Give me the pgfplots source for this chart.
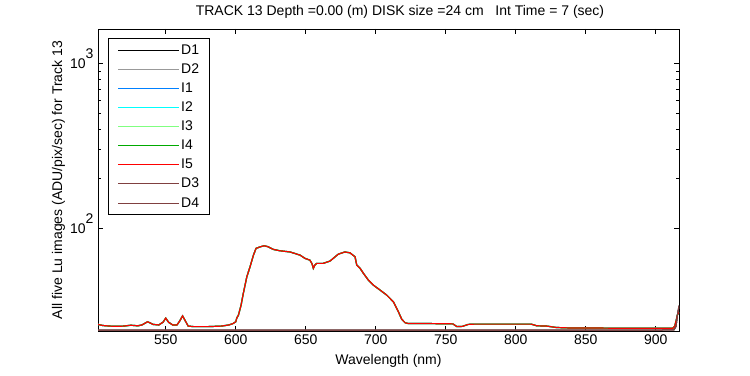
\documentclass[border=0pt]{standalone}
\usepackage{pgfplots}
\pgfplotsset{compat=1.18}
\usepackage{pgfplotstable}
\usepackage{fontspec}
\setmainfont{Liberation Sans}
\newcommand\ff{\fontsize{14bp}{16bp}\selectfont}
\definecolor{cD2}{RGB}{153,153,153}
\definecolor{cI1}{RGB}{0,128,255}
\definecolor{cI2}{RGB}{0,255,255}
\definecolor{cI3}{RGB}{128,255,128}
\definecolor{cI4}{RGB}{0,170,0}
\definecolor{cI5}{RGB}{255,0,0}
\definecolor{cD3}{RGB}{128,64,64}

\pgfplotstableread{
wl val
501.6 26.2
505 25.8
510 25.6
515 25.5
520 25.6
525 25.9
530 25.7
533 26.0
537 27.2
541 26.2
545 26.0
548 27.0
550 28.6
552 27.0
555 26.0
558 26.0
560 27.5
562 29.5
564 27.5
566 25.6
570 25.4
580 25.4
590 25.6
595 26.0
598 26.5
600 27.2
600.7 28.6
601.9 29.8
603.8 34.3
605.4 40.4
607.9 50.9
610.2 58.5
612.6 68.8
614.5 75.7
617.4 77.3
620.2 78.5
623 77.5
626.9 74.6
631.6 73.2
638.8 72.0
645.9 68.9
649.5 65.8
653 64.2
654.5 61
655.4 57.3
656.5 60
657.8 61.4
662.5 61.4
667.3 63.4
673.2 69.8
678 72.0
681.6 71.1
685.2 67.3
686.4 60
688.8 57.3
691.2 53.4
694.7 48.6
698.3 45.3
703.1 42.3
707.9 39.4
712.6 35.9
716.2 31.2
718.6 28.1
721 26.8
723.4 26.5
740 26.5
755 26.4
758 25.4
762 25.5
766 26.2
770 26.3
790 26.3
811 26.3
815 25.7
822 25.6
829 25.1
840 24.9
860 24.9
880 24.8
900 24.8
912 24.8
913.5 25.5
914.5 27.5
915.5 30
916.6 31
}\Idata

\pgfplotstableread{
wl val
501.6 24.2
600 24.2
700 24.2
800 24.2
900 24.2
913 24.3
914.5 25.5
915.5 30
916.6 34
}\Ddata

\begin{document}
\begin{tikzpicture}[x=1bp,y=1bp]
\path[use as bounding box] (0,0) rectangle (750,375);
\node[font=\ff] at (400,363) {TRACK 13 Depth =0.00 (m) DISK size =24 cm\ \ \ Int Time = 7 (sec)};
\begin{axis}[
  at={(98bp,44bp)}, anchor=south west, scale only axis,
  width=581bp, height=302bp,
  ymode=log,
  xmin=501.6, xmax=916.6, ymin=23.9, ymax=1615,
  xtick={550,600,...,900},
  ytick={100,1000},
  yticklabels={10\raisebox{0.72em}{2},10\raisebox{0.72em}{3}},
  yticklabel style={anchor=base east, yshift=-4.8bp, xshift=-1bp},
  tick align=inside,
  major tick length=5bp, minor tick length=3bp,
  axis line style={line width=0.8bp},
  every tick/.style={line width=0.8bp, black},
  tick label style={font=\ff},
  /pgf/number format/assume math mode=true,
  xlabel={Wavelength (nm)},
  ylabel={All five Lu images (ADU/pix/sec) for Track 13},
  label style={font=\ff},
  xlabel style={at={(rel axis cs:0.5,0)}, anchor=base, yshift=-33bp},
  ylabel style={at={(rel axis cs:0,0.5)}, anchor=base, yshift=36bp},
  legend style={at={(rel axis cs:0.0177,0.969)}, anchor=north west,
    draw=black, line width=0.8bp, font=\ff, inner xsep=9bp, inner ysep=4bp,
    row sep=4.1bp,
    nodes={inner sep=1.5bp, text height=10bp, text depth=2bp}},
  legend cell align=left,
  legend image code/.code={\draw[#1, line width=1bp] (0bp,0bp) -- (61bp,0bp);},
  every axis plot/.append style={line width=1.2bp},
]
\addplot[black, line width=1bp] table[x=wl,y=val] {\Ddata};
\addlegendentry{D1}
\addplot[cD2, line width=1bp] table[x=wl,y=val] {\Ddata};
\addlegendentry{D2}
\addplot[cI1] table[x=wl,y=val] {\Idata};
\addlegendentry{I1}
\addplot[cI2] table[x=wl,y=val] {\Idata};
\addlegendentry{I2}
\addplot[cI3] table[x=wl,y=val] {\Idata};
\addlegendentry{I3}
\addplot[cI4] table[x=wl,y=val] {\Idata};
\addlegendentry{I4}
\addplot[cI5] table[x=wl,y=val] {\Idata};
\addlegendentry{I5}
\addplot[cD3, line width=1bp] table[x=wl,y=val] {\Ddata};
\addlegendentry{D3}
\addplot[cD3, line width=1bp] table[x=wl,y=val] {\Ddata};
\addlegendentry{D4}
\end{axis}
\end{tikzpicture}
\end{document}
